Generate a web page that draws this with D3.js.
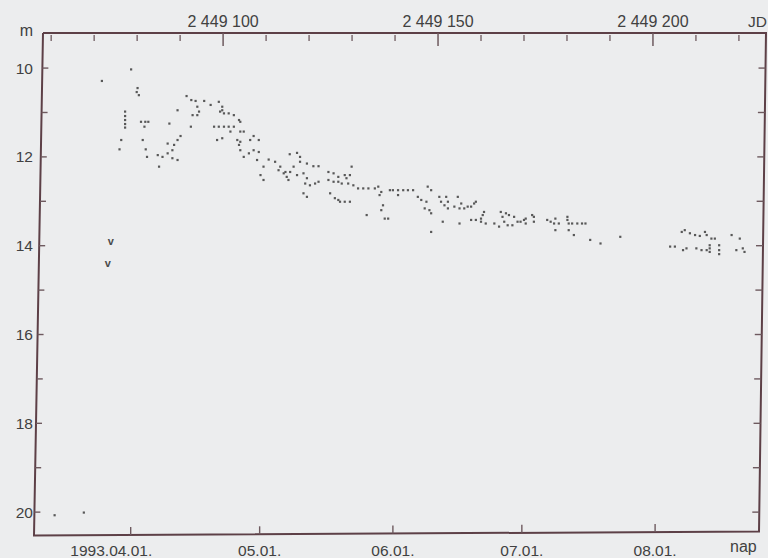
<!DOCTYPE html>
<html>
<head>
<meta charset="utf-8">
<script src="https://cdn.jsdelivr.net/npm/d3@7"></script>
<style>
  html, body { margin: 0; padding: 0; background: #ecedee; }
  svg { display: block; font-family: "Liberation Sans", Arial, Helvetica, sans-serif; }
</style>
</head>
<body>
<svg id="chart" width="768" height="558"></svg>
<script>
// Brightness estimates of the 1993 spring–summer supernova: [JD − 2 449 000, magnitude]
const JD_ZERO = 2449000;
const observations = [
  [60.8, 20.07], [67.6, 20.01],
  [71.8, 10.29],
  [75.9, 11.83], [76.3, 11.62],
  [77.2, 10.98], [77.2, 11.08], [77.2, 11.17], [77.2, 11.26], [77.2, 11.34],
  [78.6, 10.03],
  [79.9, 10.54], [80.1, 10.45], [80.4, 10.61],
  [80.9, 11.21], [81.9, 11.21], [82.6, 11.21], [81.7, 11.32],
  [81.3, 11.62], [82.0, 11.83], [82.3, 12.00],
  [84.8, 11.96], [85.1, 12.22], [85.9, 12.00],
  [87.1, 11.70], [87.1, 11.92], [87.5, 11.25], [88.2, 11.85], [88.2, 12.03], [88.6, 11.73],
  [89.4, 10.95], [89.4, 11.62], [89.4, 12.07], [90.1, 11.53],
  [91.5, 10.63], [92.6, 10.72], [93.6, 10.74], [95.6, 10.74],
  [92.9, 11.06], [94.0, 10.87], [94.0, 11.06], [94.4, 10.98],
  [92.5, 11.32],
  [97.1, 10.83], [99.0, 10.76], [99.8, 10.87], [99.8, 10.95], [99.3, 10.98],
  [100.2, 11.02], [101.3, 11.02], [102.5, 11.06], [103.7, 11.17], [104.0, 11.21],
  [97.9, 11.32], [99.0, 11.32], [100.2, 11.32], [101.3, 11.32], [102.5, 11.32],
  [98.6, 11.62], [99.8, 11.58], [101.7, 11.43],
  [104.0, 11.43], [104.8, 11.43],
  [103.3, 11.62], [104.0, 11.66], [103.7, 11.73], [104.0, 11.85],
  [106.3, 11.62], [107.1, 11.53], [108.3, 11.62],
  [104.8, 12.00], [106.0, 11.92], [107.1, 11.85], [108.3, 11.89], [107.9, 12.07],
  [110.6, 12.06], [109.4, 12.22], [108.7, 12.41], [109.4, 12.52],
  [112.1, 12.11], [113.3, 12.22], [112.9, 12.30], [114.1, 12.37], [114.8, 12.45], [115.2, 12.52],
  [114.5, 12.34],
  [115.5, 11.94], [117.2, 11.91], [117.9, 12.00],
  [116.4, 12.22], [117.9, 12.11], [119.5, 12.15], [121.0, 12.21], [122.2, 12.21],
  [115.6, 12.34], [117.2, 12.41],
  [118.7, 12.37], [119.5, 12.48], [119.1, 12.60], [120.2, 12.64], [121.4, 12.60], [122.2, 12.56],
  [118.7, 12.82], [119.5, 12.90],
  [124.5, 12.52], [125.7, 12.56], [126.8, 12.56], [127.6, 12.60], [129.1, 12.60], [130.3, 12.64],
  [124.5, 12.34], [125.7, 12.37], [128.3, 12.41], [129.5, 12.41], [128.7, 12.48], [126.8, 12.45],
  [129.9, 12.22],
  [124.9, 12.82], [126.0, 12.93], [127.2, 13.01], [128.3, 13.01], [129.5, 13.01], [126.8, 12.97],
  [131.4, 12.71], [132.6, 12.71], [133.8, 12.71],
  [133.4, 13.31],
  [137.6, 13.39], [138.4, 13.39],
  [135.3, 12.71], [136.1, 12.67], [136.8, 12.79], [136.4, 12.86],
  [137.2, 13.09], [136.8, 13.20],
  [138.8, 12.75], [139.5, 12.75],
  [140.7, 12.75], [140.7, 12.86], [141.9, 12.75], [143.0, 12.75], [144.2, 12.75],
  [145.3, 12.90], [146.1, 12.97], [147.3, 13.01],
  [147.6, 12.67], [148.4, 12.75],
  [146.9, 13.16], [148.0, 13.20], [148.4, 13.27],
  [148.4, 13.69],
  [150.3, 12.90], [150.7, 13.01], [151.9, 12.90], [152.3, 13.01], [151.5, 13.09], [152.3, 13.16],
  [151.1, 13.46], [155.0, 13.50],
  [153.8, 13.12], [155.0, 13.16], [155.4, 13.05], [156.1, 13.16], [156.9, 13.12], [157.7, 13.12], [158.4, 13.05],
  [154.6, 12.90], [158.8, 13.01],
  [157.7, 13.42], [158.8, 13.42], [160.0, 13.39], [160.0, 13.46], [160.4, 13.31], [160.7, 13.24],
  [161.1, 13.50], [163.1, 13.50], [164.2, 13.57],
  [164.6, 13.24], [165.8, 13.27], [166.5, 13.31], [167.7, 13.35], [165.0, 13.35], [165.4, 13.46],
  [166.2, 13.54], [167.3, 13.54],
  [168.5, 13.46], [169.2, 13.46],
  [170.0, 13.42], [170.4, 13.39], [170.4, 13.50], [171.9, 13.31], [172.3, 13.35], [172.3, 13.46],
  [175.4, 13.42], [176.2, 13.46], [177.0, 13.50], [177.3, 13.39], [178.1, 13.50],
  [180.1, 13.35], [180.1, 13.42], [180.4, 13.50], [181.2, 13.50], [182.4, 13.50], [183.5, 13.50], [184.3, 13.50],
  [177.3, 13.65], [180.4, 13.65], [181.6, 13.76],
  [185.4, 13.87], [187.8, 13.95],
  [192.4, 13.80],
  [206.7, 13.69], [207.4, 13.65], [208.6, 13.72], [209.8, 13.76], [210.9, 13.78], [212.1, 13.69], [212.5, 13.76], [213.6, 13.84], [214.4, 13.84],
  [204.0, 14.02], [205.1, 14.02], [207.0, 14.10], [207.8, 14.06], [210.1, 14.06], [211.3, 14.10], [212.5, 14.10], [213.2, 14.06], [213.2, 14.14], [213.2, 13.99],
  [215.4, 13.99], [215.4, 14.10], [215.4, 14.19],
  [218.3, 13.76], [220.2, 13.84], [219.4, 14.10], [220.9, 14.06], [221.3, 14.14]
];

// Estimates marked with "v"
const vMarkDay = [73.9, 73.2];
const vMarkMag = [13.91, 14.39];

// Top axis: Julian Date
const jdMajor = [2449100, 2449150, 2449200];
const jdMajorLabels = ["2 449 100", "2 449 150", "2 449 200"];
const jdMinor = [2449060, 2449070, 2449080, 2449090, 2449110, 2449120, 2449130, 2449140,
                 2449160, 2449170, 2449180, 2449190, 2449210, 2449220];

// Bottom axis: calendar dates (first of each month, 1993)
const monthStartJD = [2449078.5, 2449108.5, 2449139.5, 2449169.5, 2449200.5];
const monthLabels = ["1993.04.01.", "05.01.", "06.01.", "07.01.", "08.01."];

// Magnitude axis
const magTicks = [10, 11, 12, 13, 14, 15, 16, 17, 18, 19, 20];
const magLabels = [10, 12, 14, 16, 18, 20];

const svg = d3.select("#chart");
const frameColor = "#5d4047";
const textColor = "#414141";

const x = d3.scaleLinear().domain([2449058.1, 2449226.3]).range([43, 766]);
const y = d3.scaleLinear().domain([9.21, 20.47]).range([33, 533]);

const [x0, x1] = x.range();
const [y0, y1] = y.range();
// the paper frame leans a little: side edges drift left toward the bottom
const leanLeft = -9, leanRight = -7;
const bottomLeftY = y1 + 2.5, bottomRightY = y1 - 1.5;
const leftEdge = py => x0 + leanLeft * (py - y0) / (y1 - y0);
const rightEdge = py => x1 + leanRight * (py - y0) / (y1 - y0);
const bottomEdge = px => bottomLeftY + (bottomRightY - bottomLeftY) * (px - x0) / (x1 - x0);

// Frame
svg.append("path")
  .attr("d", d3.line()([
    [x0, y0], [x1, y0], [x1 + leanRight, bottomRightY], [x0 + leanLeft, bottomLeftY], [x0, y0]
  ]))
  .attr("fill", "none")
  .attr("stroke", frameColor)
  .attr("stroke-width", 2)
  .attr("stroke-linejoin", "miter");

// Top JD ticks (inward)
const tickG = svg.append("g").attr("stroke", "#6e5a5f");
tickG.selectAll("line.jdmin").data(jdMinor).join("line")
  .attr("x1", d => x(d)).attr("x2", d => x(d))
  .attr("y1", y0 + 2).attr("y2", y0 + 8)
  .attr("stroke-width", 1.3);
tickG.selectAll("line.jdmaj").data(jdMajor).join("line")
  .attr("x1", d => x(d)).attr("x2", d => x(d))
  .attr("y1", y0).attr("y2", y0 + 13)
  .attr("stroke-width", 1.5);

// Bottom month ticks (inward)
tickG.selectAll("line.mon").data(monthStartJD).join("line")
  .attr("x1", d => x(d)).attr("x2", d => x(d))
  .attr("y1", d => bottomEdge(x(d))).attr("y2", d => bottomEdge(x(d)) - 8)
  .attr("stroke-width", 1.4);

// Magnitude ticks on both sides
tickG.selectAll("line.ml").data(magTicks).join("line")
  .attr("x1", d => leftEdge(y(d))).attr("x2", d => leftEdge(y(d)) + 6)
  .attr("y1", d => y(d)).attr("y2", d => y(d))
  .attr("stroke-width", 1.4);
tickG.selectAll("line.mr").data(magTicks).join("line")
  .attr("x1", d => rightEdge(y(d))).attr("x2", d => rightEdge(y(d)) - 7)
  .attr("y1", d => y(d)).attr("y2", d => y(d))
  .attr("stroke-width", 1.4);

// Labels
const labels = svg.append("g").attr("fill", textColor);

labels.selectAll("text.mag").data(magLabels).join("text")
  .attr("x", 33).attr("y", d => y(d) + 5.5)
  .attr("text-anchor", "end")
  .attr("font-size", 15.5)
  .text(d => d);

labels.append("text").attr("x", 33).attr("y", 36)
  .attr("text-anchor", "end").attr("font-size", 16).text("m");

labels.selectAll("text.jd").data(jdMajor).join("text")
  .attr("x", d => x(d)).attr("y", 27)
  .attr("text-anchor", "middle")
  .attr("font-size", 16)
  .text((d, i) => jdMajorLabels[i]);

labels.append("text").attr("x", 767).attr("y", 27)
  .attr("text-anchor", "end")
  .attr("font-size", 15.5).text("JD");

// Dates: month part ends at the tick, day part starts at it
const dateG = labels.selectAll("g.date").data(monthStartJD).join("g");
dateG.append("text")
  .attr("x", d => x(d)).attr("y", 556)
  .attr("text-anchor", "end").attr("font-size", 15.5)
  .text((d, i) => monthLabels[i].slice(0, -3));
dateG.append("text")
  .attr("x", d => x(d)).attr("y", 556)
  .attr("text-anchor", "start").attr("font-size", 15.5)
  .text((d, i) => monthLabels[i].slice(-3));

labels.append("text").attr("x", 730).attr("y", 552)
  .attr("font-size", 16).text("nap");

// Observations
const s = 2.2;
svg.append("g").attr("fill", "#585858")
  .selectAll("rect").data(observations).join("rect")
  .attr("x", d => x(JD_ZERO + d[0]) - s / 2)
  .attr("y", d => y(d[1]) - s / 2)
  .attr("width", s).attr("height", s);

svg.append("g").attr("fill", "#4a4a4a")
  .selectAll("text").data(vMarkDay).join("text")
  .attr("x", d => x(JD_ZERO + d))
  .attr("y", (d, i) => y(vMarkMag[i]) + 3.5)
  .attr("text-anchor", "middle")
  .attr("font-size", 11)
  .attr("font-weight", "bold")
  .text("v");
</script>
</body>
</html>
